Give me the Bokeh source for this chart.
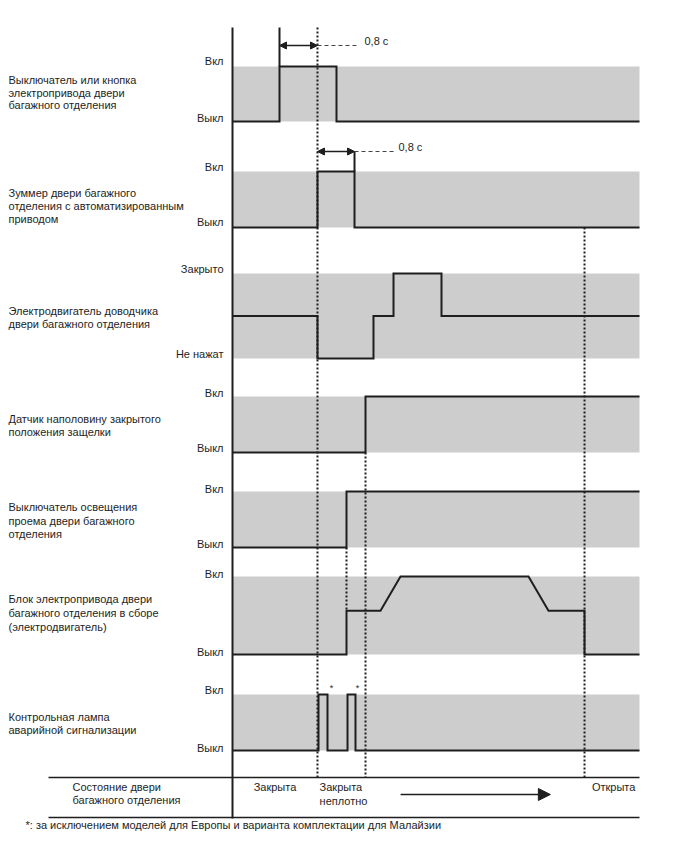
from bokeh.plotting import figure
from bokeh.models import Range1d, Arrow, NormalHead
from bokeh.embed import file_html
from bokeh.resources import INLINE
from bokeh.core.properties import value

# ---------------- data (time in arbitrary units 0..100, levels 0..1) ----------------
T_END = 100.0
t_switch_on = 11.55      # switch pressed
t_buzz_on = 20.88        # buzzer on / half-latch start ("closed loosely")
t_switch_off = 25.55
t_buzz_off = 29.98
t_light = 28.01          # courtesy switch on
t_latch = 32.68          # half-latch sensor on
t_open = 86.49           # door open

sig1_t = [0, t_switch_on, t_switch_on, t_switch_off, t_switch_off, T_END]
sig1_v = [0, 0, 1, 1, 0, 0]
sig2_t = [0, t_buzz_on, t_buzz_on, t_buzz_off, t_buzz_off, T_END]
sig2_v = [0, 0, 1, 1, 0, 0]
sig3_t = [0, 20.88, 20.88, 34.64, 34.64, 39.56, 39.56, 51.35, 51.35, T_END]
sig3_v = [0.5, 0.5, 0, 0, 0.5, 0.5, 1, 1, 0.5, 0.5]
sig4_t = [0, t_latch, t_latch, T_END]
sig4_v = [0, 0, 1, 1]
sig5_t = [0, t_light, t_light, T_END]
sig5_v = [0, 0, 1, 1]
sig6_t = [0, 28.01, 28.01, 36.36, 41.28, 72.73, 77.64, 86.49, 86.49, T_END]
sig6_v = [0, 0, 0.56, 0.56, 1, 1, 0.56, 0.56, 0, 0]
sig7_t = [0, 21.13, 21.13, 23.34, 23.34, 28.26, 28.26, 30.22, 30.22, T_END]
sig7_v = [0, 0, 1, 1, 0, 0, 1, 1, 0, 0]
signals_t = [sig1_t, sig2_t, sig3_t, sig4_t, sig5_t, sig6_t, sig7_t]
signals_v = [sig1_v, sig2_v, sig3_v, sig4_v, sig5_v, sig6_v, sig7_v]

names = [
    ["Выключатель или кнопка", "электропривода двери", "багажного отделения"],
    ["Зуммер двери багажного", "отделения с автоматизированным", "приводом"],
    ["Электродвигатель доводчика", "двери багажного отделения"],
    ["Датчик наполовину закрытого", "положения защелки"],
    ["Выключатель освещения", "проема двери багажного", "отделения"],
    ["Блок электропривода двери", "багажного отделения в сборе", "(электродвигатель)"],
    ["Контрольная лампа", "аварийной сигнализации"],
]
state_hi = ["Вкл", "Вкл", "Закрыто", "Вкл", "Вкл", "Вкл", "Вкл"]
state_lo = ["Выкл", "Выкл", "Не нажат", "Выкл", "Выкл", "Выкл", "Выкл"]
delay_label = "0,8 c"
door_states = ["Закрыта", "Закрыта\nнеплотно", "Открыта"]
door_state_t = [5.2, 21.4, 88.3]
row_label = ["Состояние двери", "багажного отделения"]
footnote = "*: за исключением моделей для Европы и варианта комплектации для Малайзии"
star_t = [24.3, 30.7]

# ---------------- layout (image pixel coordinates) ----------------
OFF = 0                                # where the figure's top-left lands in the picture
X0, X1 = 232, 639                      # time axis 0..100
band_top = [66, 171, 273, 396, 491, 576, 694]
band_bot = [121, 227, 358, 452, 547, 654, 750]
name_y = [[79, 92, 104], [192, 205, 218], [310, 323], [418, 431],
          [506, 520, 533], [598, 612, 626], [716, 729]]
hi_y = [60, 166, 268, 392, 488, 573, 689]
lo_y = [117, 221, 353, 447, 543, 651, 747]
FONT = value("Liberation Sans")
INK = "#1e1e1e"

W, H = 672, 836
p = figure(width=W, height=H, output_backend="svg", toolbar_location=None,
           x_range=Range1d(OFF, OFF + W), y_range=Range1d(OFF + H, OFF),
           x_axis_type=None, y_axis_type=None, min_border=0)
p.grid.visible = False
p.outline_line_color = None
p.background_fill_color = "white"

ppu = (X1 - X0) / T_END
p.extra_x_ranges = {"t": Range1d((OFF - X0) / ppu, (OFF + W - X0) / ppu)}
for i in range(7):
    h = band_bot[i] - band_top[i]
    p.extra_y_ranges["p%d" % i] = Range1d((band_bot[i] - (OFF + H)) / h, (band_bot[i] - OFF) / h)

# gray bands
for i in range(7):
    p.quad(left=[0], right=[T_END], bottom=[0], top=[1], x_range_name="t",
           y_range_name="p%d" % i, fill_color="#cdcdcd", line_color=None)

# dotted event lines (time, y from, y to in pixels)
dot_t = [t_buzz_on, t_latch, t_light, t_open]
dot_y0 = [27, 452, 547, 227]
dot_y1 = [777, 777, 610, 777]
p.segment(x0=dot_t, x1=dot_t, y0=dot_y0, y1=dot_y1, x_range_name="t",
          line_color=INK, line_width=2, line_dash="2 2")

# signals
for i in range(7):
    p.line(signals_t[i], signals_v[i], x_range_name="t", y_range_name="p%d" % i,
           line_color=INK, line_width=2, line_join="miter")

# extended edges for the 0,8 s measurements
p.segment(x0=[t_switch_on, t_buzz_off], x1=[t_switch_on, t_buzz_off],
          y0=[27, 151], y1=[band_top[0], band_top[1]], x_range_name="t",
          line_color=INK, line_width=2)

# 0,8 s arrows
arr_y = [45, 151]
arr_a = [t_switch_on, t_buzz_on]
arr_b = [t_buzz_on, t_buzz_off]
for ya, a, b in zip(arr_y, arr_a, arr_b):
    p.add_layout(Arrow(x_start=a, x_end=b, y_start=ya, y_end=ya, x_range_name="t",
                       line_color=INK, line_width=1.5,
                       start=NormalHead(size=7, fill_color=INK, line_color=INK),
                       end=NormalHead(size=7, fill_color=INK, line_color=INK)))
dash_end = [31.0, 40.1]
p.segment(x0=arr_b, x1=dash_end, y0=arr_y, y1=arr_y, x_range_name="t",
          line_color="#444", line_width=1, line_dash="4 3")
p.text(x=[364, 398], y=[40, 146], text=[delay_label, delay_label],
       text_font=FONT, text_font_size="11px", text_baseline="middle",
       text_align="left", text_color=INK)

# axis frame lines
p.segment(x0=[0], x1=[0], y0=[27], y1=[818], x_range_name="t", line_color=INK, line_width=2)
p.segment(x0=[48, 48], x1=[X1, X1], y0=[777, 817], y1=[777, 817],
          line_color=INK, line_width=1.5)

# signal names
nx, ny, nt = [], [], []
for i in range(7):
    for line, yy in zip(names[i], name_y[i]):
        nx.append(8); ny.append(yy); nt.append(line)
nx += [72, 72]; ny += [786, 799]; nt += row_label
p.text(x=nx, y=ny, text=nt, text_font=FONT, text_font_size="11px",
       text_baseline="middle", text_align="left", text_color=INK)

# state labels
p.text(x=[223] * 14, y=hi_y + lo_y, text=state_hi + state_lo, text_font=FONT,
       text_font_size="11px", text_baseline="middle", text_align="right", text_color=INK)

# door states
p.text(x=door_state_t, y=[780] * 3, text=door_states, x_range_name="t",
       text_font=FONT, text_font_size="11px", text_baseline="top",
       text_align="left", text_color=INK, text_line_height=1.2)
p.add_layout(Arrow(x_start=41.3, x_end=78.1, y_start=794, y_end=794, x_range_name="t",
                   line_color=INK, line_width=1.5,
                   end=NormalHead(size=12, fill_color=INK, line_color=INK)))

# asterisks
p.text(x=star_t, y=[687, 687], text=["*", "*"], x_range_name="t", text_font=FONT,
       text_font_size="9px", text_baseline="middle", text_align="center", text_color=INK)

# footnote
p.text(x=[25], y=[824], text=[footnote], text_font=FONT, text_font_size="11px",
       text_baseline="middle", text_align="left", text_color=INK)

open("out.html", "w").write(file_html(p, INLINE))
